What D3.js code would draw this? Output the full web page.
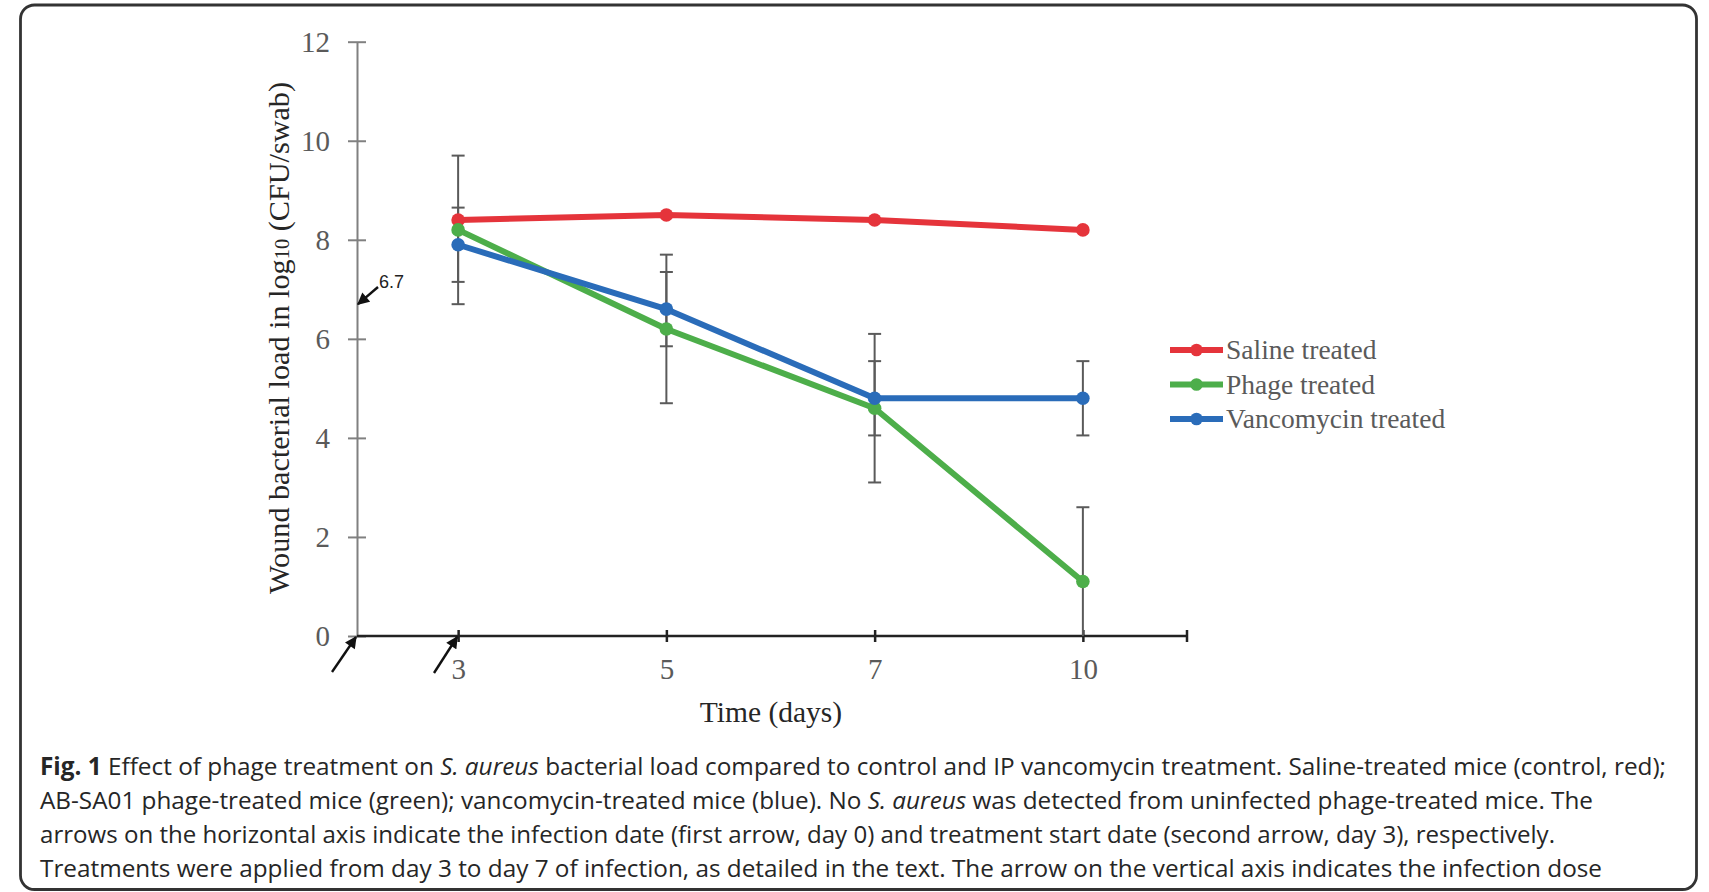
<!DOCTYPE html>
<html><head><meta charset="utf-8">
<script src="https://cdn.jsdelivr.net/npm/d3@7"></script>
<style>html,body{margin:0;padding:0;background:#fff;} svg{display:block;}</style>
</head><body>
<script>
// ---------- data ----------
const days = [3, 5, 7, 10];
const saline = [8.4, 8.5, 8.4, 8.2];
const phage = [8.2, 6.2, 4.6, 1.1];
const vancomycin = [7.9, 6.6, 4.8, 4.8];
const phageErr = [1.5, 1.5, 1.5, 1.5];
const vancomycinErr = [0.75, 0.75, 0.75, 0.75];
const seriesNames = ["Saline treated", "Phage treated", "Vancomycin treated"];
const yTicks = [0, 2, 4, 6, 8, 10, 12];
const infectionDose = 6.7;
const treatmentStartDay = 3;
const xTitle = "Time (days)";
const captionLines = [
  [["Fig. 1", "b"], [" Effect of phage treatment on ", ""], ["S. aureus", "i"], [" bacterial load compared to control and IP vancomycin treatment. Saline-treated mice (control, red);", ""]],
  [["AB-SA01 phage-treated mice (green); vancomycin-treated mice (blue). No ", ""], ["S. aureus", "i"], [" was detected from uninfected phage-treated mice. The", ""]],
  [["arrows on the horizontal axis indicate the infection date (first arrow, day 0) and treatment start date (second arrow, day 3), respectively.", ""]],
  [["Treatments were applied from day 3 to day 7 of infection, as detailed in the text. The arrow on the vertical axis indicates the infection dose", ""]]
];

// ---------- layout ----------
const W = 1709, H = 892;
const colors = ["#e5343b", "#4dae4a", "#2a6cb9"];
const serif = "'Liberation Serif', 'Times New Roman', serif";
const sans = "'Liberation Sans', Arial, sans-serif";
const axisX = 357, axisRight = 1187;

const svg = d3.select("body").append("svg").attr("width", W).attr("height", H);

svg.append("rect").attr("x", 20.5).attr("y", 5).attr("width", 1676).attr("height", 884.5)
  .attr("rx", 14).attr("fill", "#fff").attr("stroke", "#333").attr("stroke-width", 2.8);

const x = d3.scalePoint().domain(days).range([354, axisRight]).padding(0.5);
const y = d3.scaleLinear().domain([0, 12]).range([636, 41.7]);

// arrow marker
svg.append("defs").append("marker")
  .attr("id", "ah").attr("viewBox", "0 0 10 10").attr("refX", 9).attr("refY", 5)
  .attr("markerWidth", 13).attr("markerHeight", 12).attr("markerUnits", "userSpaceOnUse")
  .attr("orient", "auto")
  .append("path").attr("d", "M0,0 L10,5 L0,10 z").attr("fill", "#111");

// y axis
const gy = svg.append("g").attr("transform", `translate(${axisX},0)`)
  .call(d3.axisLeft(y).tickValues(yTicks).tickSize(9).tickSizeOuter(0));
gy.select(".domain").attr("stroke", "#808080").attr("stroke-width", 2);
gy.selectAll(".tick line").attr("x1", 9).attr("stroke", "#808080").attr("stroke-width", 2);
gy.selectAll(".tick text").attr("x", -27).attr("dy", "0.33em")
  .attr("font-family", serif).attr("font-size", 29).attr("fill", "#5a5a5a");

// x axis
const gx = svg.append("g").attr("transform", `translate(0,${y(0)})`)
  .call(d3.axisBottom(x).tickSize(6).tickSizeOuter(0));
gx.select(".domain").remove();
gx.append("line").attr("x1", axisX).attr("x2", axisRight).attr("y1", 0).attr("y2", 0)
  .attr("stroke", "#222").attr("stroke-width", 2.5);
gx.append("line").attr("x1", axisRight).attr("x2", axisRight).attr("y1", -6).attr("y2", 6)
  .attr("stroke", "#222").attr("stroke-width", 2.5);
gx.selectAll(".tick line").attr("y1", -6).attr("stroke", "#222").attr("stroke-width", 2.5);
gx.selectAll(".tick text").attr("y", 43).attr("dy", null)
  .attr("font-family", serif).attr("font-size", 29).attr("fill", "#5a5a5a");

// axis titles
svg.append("text").attr("x", 771).attr("y", 722).attr("text-anchor", "middle")
  .attr("font-family", serif).attr("font-size", 29.5).attr("fill", "#262626").text(xTitle);

const yt = svg.append("text").attr("transform", "translate(289,338) rotate(-90)")
  .attr("text-anchor", "middle").attr("font-family", serif).attr("font-size", 29.5)
  .attr("fill", "#262626").attr("textLength", 512).attr("lengthAdjust", "spacingAndGlyphs");
yt.append("tspan").text("Wound bacterial load in log");
yt.append("tspan").attr("font-size", 20).text("10");
yt.append("tspan").text(" (CFU/swab)");

// error bars
function errBars(vals, errs) {
  const g = svg.append("g").attr("stroke", "#5a5a5a").attr("stroke-width", 2);
  vals.forEach((v, i) => {
    const cx = x(days[i]);
    const lo = Math.max(0, v - errs[i]), hi = v + errs[i];
    g.append("line").attr("x1", cx).attr("x2", cx).attr("y1", y(lo)).attr("y2", y(hi));
    g.append("line").attr("x1", cx - 6.5).attr("x2", cx + 6.5).attr("y1", y(hi)).attr("y2", y(hi));
    if (v - errs[i] > 0)
      g.append("line").attr("x1", cx - 6.5).attr("x2", cx + 6.5).attr("y1", y(lo)).attr("y2", y(lo));
  });
}
errBars(phage, phageErr);
errBars(vancomycin, vancomycinErr);

// series
const line = d3.line().x((d, i) => x(days[i])).y(d => y(d));
[saline, phage, vancomycin].forEach((vals, s) => {
  svg.append("path").datum(vals).attr("d", line).attr("fill", "none")
    .attr("stroke", colors[s]).attr("stroke-width", 6).attr("stroke-linejoin", "round");
  svg.append("g").selectAll("circle").data(vals).join("circle")
    .attr("cx", (d, i) => x(days[i])).attr("cy", d => y(d)).attr("r", 6.8).attr("fill", colors[s]);
});

// legend
seriesNames.forEach((name, s) => {
  const ly = 350 + s * 34.5;
  svg.append("line").attr("x1", 1170).attr("x2", 1223).attr("y1", ly).attr("y2", ly)
    .attr("stroke", colors[s]).attr("stroke-width", 6);
  svg.append("circle").attr("cx", 1196.5).attr("cy", ly).attr("r", 6.3).attr("fill", colors[s]);
  svg.append("text").attr("x", 1226).attr("y", ly + 9)
    .attr("font-family", serif).attr("font-size", 27.5).attr("fill", "#5a5a5a").text(name);
});

// annotations: arrows
function arrow(x1, y1, x2, y2) {
  svg.append("line").attr("x1", x1).attr("y1", y1).attr("x2", x2).attr("y2", y2)
    .attr("stroke", "#111").attr("stroke-width", 2.4).attr("marker-end", "url(#ah)");
}
arrow(378, 287, axisX + 1, y(infectionDose));
svg.append("text").attr("x", 379).attr("y", 288).attr("font-family", sans)
  .attr("font-size", 18).attr("fill", "#222").text(String(infectionDose));
arrow(332, 672, axisX - 1, y(0) + 1);
arrow(434, 673, x(treatmentStartDay) - 1, y(0) + 1);

// caption
const capBase = [775, 809, 843, 877];
const capEnd = [1666, 1593, 1555, 1602];
captionLines.forEach((runs, li) => {
  const t = svg.append("text").attr("x", 40).attr("y", capBase[li])
    .attr("font-family", "'Open Sans', 'Noto Sans', sans-serif").attr("font-size", 24.5)
    .attr("fill", "#262626").attr("textLength", capEnd[li] - 40)
    .attr("lengthAdjust", "spacingAndGlyphs").attr("xml:space", "preserve");
  runs.forEach(([txt, st]) => {
    const sp = t.append("tspan").text(txt);
    if (st === "b") sp.attr("font-weight", "bold");
    if (st === "i") sp.attr("font-style", "italic");
  });
});
</script>
</body></html>
